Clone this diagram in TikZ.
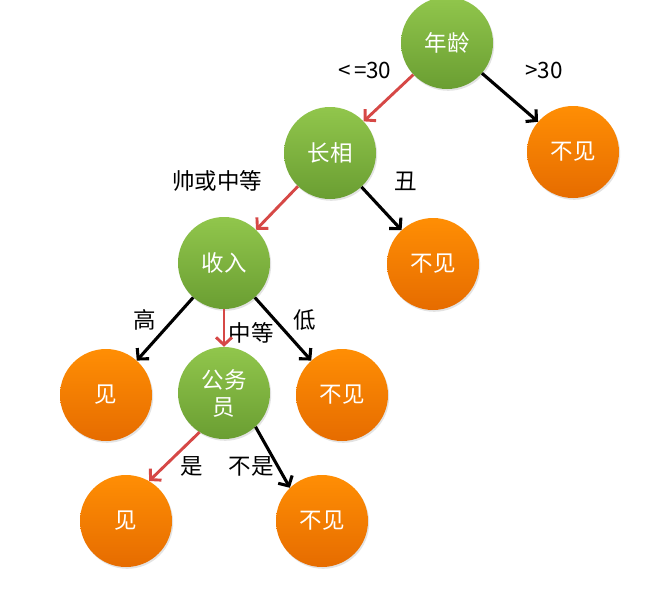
\documentclass[tikz,border=0pt]{standalone}
\usepackage{fontspec}
\setmainfont{Noto Sans CJK SC}
\usetikzlibrary{arrows.meta,shadows}

\definecolor{greentop}{RGB}{145,198,76}
\definecolor{greenbot}{RGB}{106,158,50}
\definecolor{orangetop}{RGB}{255,142,4}
\definecolor{orangebot}{RGB}{230,108,0}
\definecolor{redline}{RGB}{214,72,70}

\tikzset{
  x=1pt, y=-1pt,
  ball/.style={circle, minimum size=92pt, inner sep=0pt, text=white,
    font=\fontsize{22.5}{27}\selectfont, align=center,
    drop shadow={opacity=0.22, shadow xshift=1.2pt, shadow yshift=-1.8pt}},
  decide/.style={ball, top color=greentop, bottom color=greenbot},
  leaf/.style={ball, top color=orangetop, bottom color=orangebot},
  redarrow/.style={draw=redline, line width=2.9pt,
    -{Straight Barb[length=7.5pt,width=16pt,line width=2.9pt]}},
  blackarrow/.style={draw=black, line width=3.1pt,
    -{Straight Barb[length=7.5pt,width=16pt,line width=3.1pt]}},
  lbl/.style={text=black, font=\fontsize{22.5}{26}\selectfont, inner sep=0pt}
}

\begin{document}
\begin{tikzpicture}
  \useasboundingbox[fill=white] (0,0) rectangle (671,592);

  % decision nodes
  \node[decide] (age)    at (447,43)  {年龄};
  \node[decide] (looks)  at (330,153) {长相};
  \node[decide] (income) at (224,263) {收入};
  \node[decide] (civil)  at (224,393) {公务\\员};

  % outcomes
  \node[leaf] (no1)  at (573,152) {不见};
  \node[leaf] (no2)  at (433,264) {不见};
  \node[leaf] (yes1) at (106,395) {见};
  \node[leaf] (no3)  at (342,395) {不见};
  \node[leaf] (yes2) at (126,521) {见};
  \node[leaf] (no4)  at (322,521) {不见};

  % branches
  \draw[redarrow]   (age)    -- (looks);
  \draw[blackarrow] (age)    -- (no1);
  \draw[redarrow]   (looks)  -- (income);
  \draw[blackarrow] (looks)  -- (no2);
  \draw[blackarrow] (income) -- (yes1);
  \draw[redarrow]   (income) -- (civil);
  \draw[blackarrow] (income) -- (no3);
  \draw[redarrow]   (civil.-122) -- (yes2.60);
  \draw[blackarrow] (civil.-47)  -- (no4.134);

  % branch labels
  \node[lbl] (l1) at (365,70)  {<\kern3pt=30};
  \node[lbl] (l2) at (544,70)  {>30};
  \node[lbl] (l3) at (217,181) {帅或中等};
  \node[lbl] (l4) at (406,181) {丑};
  \node[lbl] (l5) at (145,320) {高};
  \node[lbl] (l6) at (251,333) {中等};
  \node[lbl] (l7) at (305,320) {低};
  \node[lbl] (l8) at (192,466) {是};
  \node[lbl] (l9) at (251,466) {不是};
\end{tikzpicture}
\end{document}
